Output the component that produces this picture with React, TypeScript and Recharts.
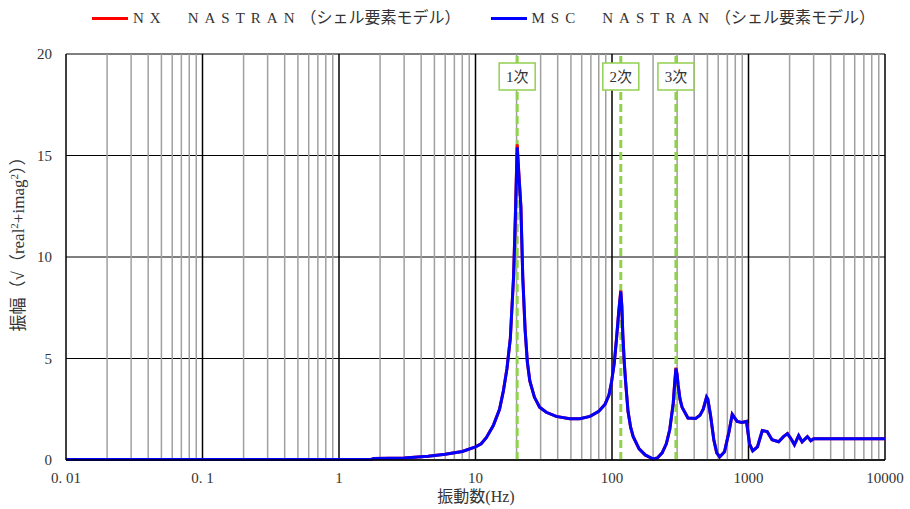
import React from "react";
import { LineChart, Line, XAxis, YAxis, CartesianGrid, ReferenceLine } from "recharts";

const freqHz = [
  0.01, 1.7, 1.8, 3, 4.5, 6, 8, 10, 11, 12, 13.5, 15, 16, 17, 18, 19, 19.6, 20.2, 20.8, 21.5,
  22.2, 23.1, 24, 25, 27, 29.5, 33, 39, 49, 58, 69, 80, 89, 95, 99, 104, 108, 112, 116, 118,
  120, 123, 126, 131, 137, 143, 158, 175, 200, 215, 233, 250, 265, 281, 288, 294, 300, 305, 315, 326,
  360, 410, 441, 466, 493, 503, 527, 557, 585, 615, 667, 720, 760, 825, 893, 967, 1017, 1074, 1163, 1262,
  1370, 1487, 1662, 1804, 1930, 2070, 2170, 2330, 2470, 2700, 2860, 3000, 10000,
];
const mscAmp = [
  0.02, 0.02, 0.08, 0.1, 0.18, 0.28, 0.42, 0.65, 0.8, 1.1, 1.7, 2.5, 3.4, 4.5, 6.0, 9.0, 12.0, 15.4, 14.0, 12.5,
  9.0, 6.4, 4.8, 3.9, 3.1, 2.6, 2.35, 2.15, 2.03, 2.03, 2.15, 2.4, 2.75, 3.2, 3.8, 4.8, 6.0, 7.3, 8.3, 7.6,
  6.2, 4.8, 3.8, 2.4, 1.6, 1.15, 0.55, 0.25, 0.05, 0.1, 0.35, 0.8, 1.5, 2.8, 3.8, 4.5, 4.2, 3.7, 3.0, 2.6,
  2.07, 2.05, 2.2, 2.5, 3.1, 3.0, 2.2, 1.0, 0.35, 0.15, 0.4, 1.4, 2.25, 1.9, 1.85, 1.9, 0.8, 0.45, 0.65, 1.45,
  1.4, 1.0, 0.9, 1.15, 1.3, 1.0, 0.75, 1.2, 0.9, 1.15, 0.95, 1.05, 1.05,
];
const nxAmp = [
  0.02, 0.02, 0.08, 0.1, 0.18, 0.28, 0.42, 0.65, 0.8, 1.1, 1.7, 2.5, 3.4, 4.5, 6.0, 9.0, 12.1, 15.55, 14.1, 12.5,
  9.0, 6.4, 4.8, 3.9, 3.1, 2.6, 2.35, 2.15, 2.03, 2.03, 2.15, 2.4, 2.75, 3.2, 3.8, 4.8, 6.0, 7.3, 8.35, 7.6,
  6.2, 4.8, 3.8, 2.4, 1.6, 1.15, 0.55, 0.25, 0.05, 0.1, 0.35, 0.8, 1.5, 2.8, 3.8, 4.55, 4.2, 3.7, 3.0, 2.6,
  2.07, 2.05, 2.2, 2.5, 3.1, 3.0, 2.2, 1.0, 0.35, 0.15, 0.4, 1.4, 2.25, 1.9, 1.85, 1.9, 0.8, 0.45, 0.65, 1.45,
  1.4, 1.0, 0.9, 1.15, 1.3, 1.0, 0.75, 1.2, 0.9, 1.15, 0.95, 1.05, 1.05,
];

const xTicks = [0.01, 0.1, 1, 10, 100, 1000, 10000];
const xTickLabels = ["0. 01", "0. 1", "1", "10", "100", "1000", "10000"];
const yTicks = [0, 5, 10, 15, 20];
const modeFreqs = [20.2, 116, 294];
const modeLabels = ["1次", "2次", "3次"];
const seriesNames = ["NX　NASTRAN", "MSC　NASTRAN"];
const seriesNote = "（シェル要素モデル）";
const seriesColors = ["#ff0000", "#0000ff"];

const data = freqHz.map((f, i) => ({ f, nx: nxAmp[i], msc: mscAmp[i] }));

// 2..9 lines inside each decade
const minorGrid: number[] = [];
for (let e = -2; e < 4; e++) {
  for (let k = 2; k <= 9; k++) minorGrid.push(Number((k * Math.pow(10, e)).toPrecision(3)));
}

const FONT = "Liberation Serif, DejaVu Serif, Noto Sans CJK JP, serif";
const GREEN = "#92d050";

const modeLabel = (text: string) => (props: any) => {
  const cx = props.viewBox.x;
  return (
    <g>
      <rect x={cx - 18} y={63} width={36} height={27} fill="#fff" stroke={GREEN} strokeWidth={1.5} />
      <text x={cx} y={82} textAnchor="middle" fontSize={15} style={{ fontFamily: FONT }} fill="#333">
        {text}
      </text>
    </g>
  );
};

const yLabel = () => (
  <text
    transform="translate(24 240) rotate(-90)"
    textAnchor="middle"
    fontSize={17}
    style={{ fontFamily: FONT }}
    fill="#333"
  >
    振幅（√（real<tspan dy={-6} fontSize={11}>2</tspan>
    <tspan dy={6}>+imag</tspan>
    <tspan dy={-6} fontSize={11}>2</tspan>
    <tspan dy={6}>））</tspan>
  </text>
);

const xLabel = () => (
  <text x={476} y={502} textAnchor="middle" fontSize={16} style={{ fontFamily: FONT }} fill="#333">
    振動数(Hz)
  </text>
);

export default function App() {
  return (
    <div style={{ position: "absolute", left: 0, top: 0, width: 910, height: 509, background: "#fff", fontFamily: FONT }}>
      <div
        style={{
          position: "absolute",
          top: 8,
          left: 92,
          display: "flex",
          gap: 30,
          fontSize: 15,
          color: "#333",
          whiteSpace: "nowrap",
          lineHeight: "20px",
        }}
      >
        {seriesNames.map((name, i) => (
          <div key={name} style={{ display: "flex", alignItems: "center" }}>
            <span style={{ width: 36, height: 3, background: seriesColors[i], marginRight: 5 }} />
            <span style={{ letterSpacing: 6 }}>{name}</span>
            <span style={{ fontSize: 16 }}>{seriesNote}</span>
          </div>
        ))}
      </div>
      <LineChart width={910} height={509} data={data} margin={{ top: 54, right: 25, bottom: 0, left: 0 }} style={{ fontFamily: FONT }}>
        <CartesianGrid vertical={false} stroke="#000" strokeWidth={1} />
        {minorGrid.map((v) => (
          <ReferenceLine key={"m" + v} x={v} stroke="#a0a0a0" strokeWidth={1.5} />
        ))}
        {xTicks.slice(1).map((v) => (
          <ReferenceLine key={"M" + v} x={v} stroke="#000" strokeWidth={1.5} />
        ))}
        <XAxis
          dataKey="f"
          type="number"
          scale="log"
          domain={[0.01, 10000]}
          ticks={xTicks}
          tickFormatter={(v: number) => xTickLabels[xTicks.indexOf(v)]}
          tickLine={false}
          tickMargin={6}
          axisLine={{ stroke: "#000", strokeWidth: 1.5 }}
          tick={{ fontSize: 15, fontFamily: FONT, fill: "#333" }}
          height={49}
          interval={0}
          allowDataOverflow
          label={xLabel}
        />
        <YAxis
          type="number"
          domain={[0, 20]}
          ticks={yTicks}
          tickLine={false}
          tickMargin={8}
          axisLine={{ stroke: "#000", strokeWidth: 1.5 }}
          tick={{ fontSize: 15, fontFamily: FONT, fill: "#333" }}
          width={66}
          label={yLabel}
        />
        {modeFreqs.map((v, i) => (
          <ReferenceLine
            key={"mode" + v}
            x={v}
            stroke={GREEN}
            strokeWidth={3}
            strokeDasharray="8 4"
            label={modeLabel(modeLabels[i])}
          />
        ))}
        <Line dataKey="nx" name={seriesNames[0]} stroke={seriesColors[0]} strokeWidth={3} dot={false} isAnimationActive={false} />
        <Line dataKey="msc" name={seriesNames[1]} stroke={seriesColors[1]} strokeWidth={3} dot={false} isAnimationActive={false} />
      </LineChart>
    </div>
  );
}
